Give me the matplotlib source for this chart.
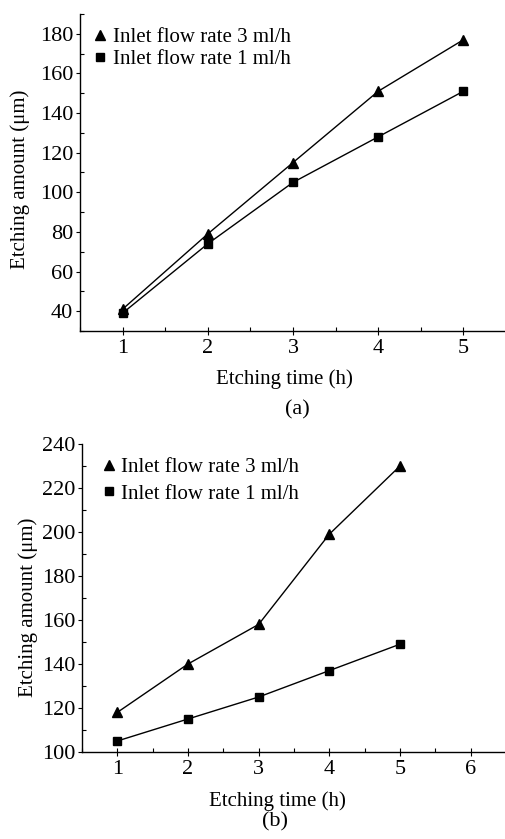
import numpy as np
import matplotlib.pyplot as plt
from matplotlib.lines import Line2D
from matplotlib.ticker import MultipleLocator

plt.rcParams['font.family'] = ['Liberation Serif', 'DejaVu Serif']

time_a = [1, 2, 3, 4, 5]
rate3_a = [41, 79, 115, 151, 177]
rate1_a = [39, 74, 105, 128, 151]

time_b = [1, 2, 3, 4, 5]
rate3_b = [118, 140, 158, 199, 230]
rate1_b = [105, 115, 125, 137, 149]

labels = ['Inlet flow rate 3 ml/h', 'Inlet flow rate 1 ml/h']

fig = plt.figure(figsize=(5.06, 8.39), dpi=100)
ax1 = fig.add_axes([0.158, 0.6055, 0.842, 0.3778])
ax2 = fig.add_axes([0.162, 0.1037, 0.838, 0.3671])

# marker-only legend entries, as in the original figure
handles = [Line2D([], [], ls='none', marker='^', ms=7.5, color='black'),
           Line2D([], [], ls='none', marker='s', ms=6, color='black')]


def style(ax, xmax, ymin, ymax, ymaj):
    for s in ['top', 'right']:
        ax.spines[s].set_visible(False)
    for s in ['left', 'bottom']:
        ax.spines[s].set_linewidth(1.0)
    ax.set_xlim(0.5, xmax)
    ax.set_ylim(ymin, ymax)
    ax.xaxis.set_major_locator(MultipleLocator(1))
    ax.xaxis.set_minor_locator(MultipleLocator(0.5))
    ax.yaxis.set_major_locator(MultipleLocator(ymaj))
    ax.yaxis.set_minor_locator(MultipleLocator(ymaj / 2))
    ax.tick_params(axis='x', which='major', direction='inout', length=6, width=0.8, labelsize=16, pad=3)
    ax.tick_params(axis='x', which='minor', direction='in', length=3, width=0.8)
    ax.tick_params(axis='y', which='major', direction='out', length=3, width=0.8, labelsize=16, pad=2)
    ax.tick_params(axis='y', which='minor', direction='in', length=3, width=0.8)
    ax.set_xlabel('Etching time (h)', fontsize=15)
    ax.set_ylabel('Etching amount (μm)', fontsize=15)
    ax.xaxis.label.set_va('center')
    ax.yaxis.label.set_va('center')


ax1.plot(time_a, rate3_a, color='black', lw=1.0, marker='^', ms=7.5)
ax1.plot(time_a, rate1_a, color='black', lw=1.0, marker='s', ms=6)
style(ax1, 5.5, 30, 190, 20)
ax1.set_yticks([40, 60, 80, 100, 120, 140, 160, 180])
ax1.legend(handles, labels, loc='upper left', bbox_to_anchor=(0.033, 0.957), frameon=False,
           fontsize=15, handlelength=0.6, handletextpad=0.31, labelspacing=0.11,
           borderaxespad=0, borderpad=0)
ax1.xaxis.set_label_coords(0.479, -0.151)
ax1.yaxis.set_label_coords(-0.14, 0.48)
fig.text(0.587, 0.511, '(a)', ha='center', va='center', fontsize=16)

ax2.plot(time_b, rate3_b, color='black', lw=1.0, marker='^', ms=7.5)
ax2.plot(time_b, rate1_b, color='black', lw=1.0, marker='s', ms=6)
style(ax2, 6.5, 100, 240, 20)
ax2.legend(handles, labels, loc='upper left', bbox_to_anchor=(0.049, 0.956), frameon=False,
           fontsize=15, handlelength=0.6, handletextpad=0.28, labelspacing=0.33,
           borderaxespad=0, borderpad=0)
ax2.xaxis.set_label_coords(0.462, -0.158)
ax2.yaxis.set_label_coords(-0.127, 0.47)
fig.text(0.543, 0.009, '(b)', ha='center', va='bottom', fontsize=16)

fig.savefig('out.png', dpi=100)
